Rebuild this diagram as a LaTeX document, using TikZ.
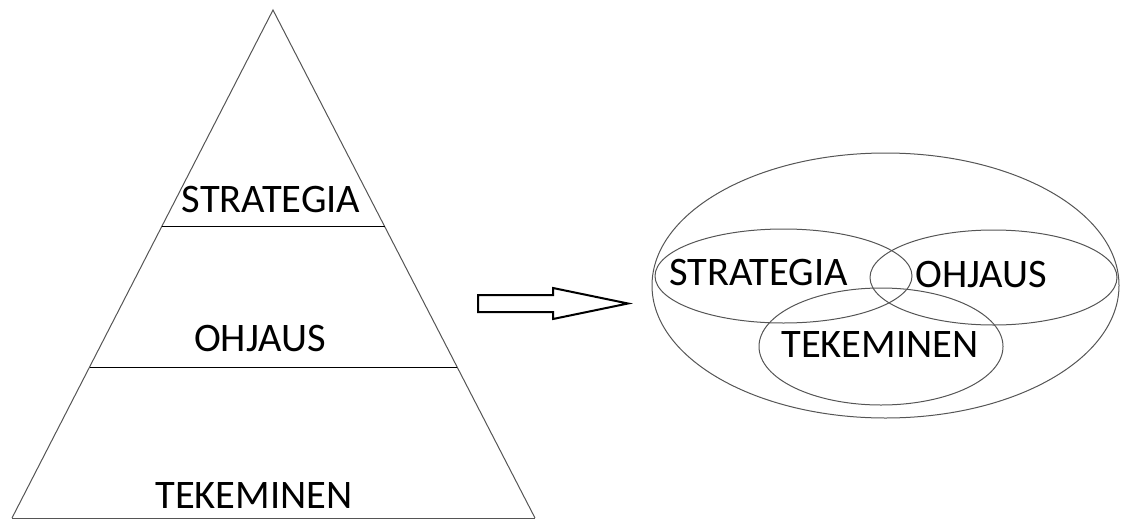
\documentclass[tikz,border=0pt]{standalone}
\usepackage{fontspec}
\setmainfont{Carlito}
\usetikzlibrary{calc}
\definecolor{edgegray}{RGB}{85,85,85}
\tikzset{
  lbl/.style={anchor=base, inner sep=0pt, font=\fontsize{40.5}{48}\selectfont},
  side/.style={draw=edgegray, line width=1pt},
  band/.style={draw=black, line width=1pt},
  venn/.style={draw=edgegray, line width=1pt},
  bigarrow/.style={draw=black, line width=2pt, line join=miter, fill=white}
}
\begin{document}
\begin{tikzpicture}[x=1pt, y=-1pt]
\useasboundingbox (0,0) rectangle (1121,519);
% pyramid
\coordinate (apex) at (273,10);
\coordinate (bl) at (12,518);
\coordinate (br) at (535,518);
\coordinate (l1) at ($(apex)!0.427!(bl)$);
\coordinate (r1) at ($(apex)!0.427!(br)$);
\coordinate (l2) at ($(apex)!0.703!(bl)$);
\coordinate (r2) at ($(apex)!0.703!(br)$);
\draw[side] (bl) -- (apex) -- (br);
\draw[side] (bl) -- (br);
\draw[band] (l1) -- (r1);
\draw[band] (l2) -- (r2);
\node[lbl] (ps) at (271,212) {STRATEGIA};
\node[lbl] (po) at (260,351) {OHJAUS};
\node[lbl] (pt) at (254,508) {TEKEMINEN};
% arrow
\coordinate (a1) at (478,295);
\coordinate (a2) at (553,295);
\coordinate (a3) at (553,288);
\coordinate (a4) at (628,303.5);
\coordinate (a5) at (553,319);
\coordinate (a6) at (553,312);
\coordinate (a7) at (478,312);
\draw[bigarrow] (a1) -- (a2) -- (a3) -- (a4) -- (a5) -- (a6) -- (a7) -- cycle;
% venn
\coordinate (oc) at (885.5,285.5);
\coordinate (sc) at (783.5,276);
\coordinate (hc) at (993.5,277.5);
\coordinate (tc) at (881,346.5);
\draw[venn] (oc) ellipse [x radius=233.5pt, y radius=132.5pt];
\draw[venn] (sc) ellipse [x radius=128.5pt, y radius=47pt];
\draw[venn] (hc) ellipse [x radius=123.5pt, y radius=47.5pt];
\draw[venn] (tc) ellipse [x radius=122pt, y radius=58.5pt];
\node[lbl] (vs) at (758.5,285) {STRATEGIA};
\node[lbl] (vo) at (981.5,287) {OHJAUS};
\node[lbl] (vt) at (880,357) {TEKEMINEN};
\end{tikzpicture}
\end{document}
